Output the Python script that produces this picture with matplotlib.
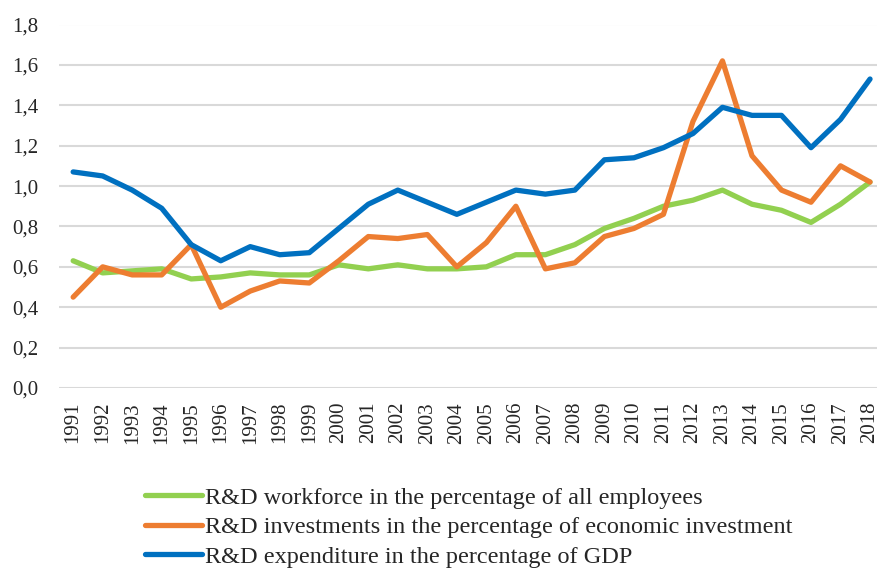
import matplotlib
matplotlib.use('Agg')
import matplotlib.pyplot as plt
import numpy as np

# Data
years = list(range(1991, 2019))
workforce = [0.63, 0.57, 0.58, 0.59, 0.54, 0.55, 0.57, 0.56, 0.56, 0.61,
             0.59, 0.61, 0.59, 0.59, 0.60, 0.66, 0.66, 0.71, 0.79, 0.84,
             0.90, 0.93, 0.98, 0.91, 0.88, 0.82, 0.91, 1.02]
investments = [0.45, 0.60, 0.56, 0.56, 0.71, 0.40, 0.48, 0.53, 0.52, 0.63,
               0.75, 0.74, 0.76, 0.60, 0.72, 0.90, 0.59, 0.62, 0.75, 0.79,
               0.86, 1.32, 1.62, 1.15, 0.98, 0.92, 1.10, 1.02]
expenditure = [1.07, 1.05, 0.98, 0.89, 0.71, 0.63, 0.70, 0.66, 0.67, 0.79,
               0.91, 0.98, 0.92, 0.86, 0.92, 0.98, 0.96, 0.98, 1.13, 1.14,
               1.19, 1.26, 1.39, 1.35, 1.35, 1.19, 1.33, 1.53]
labels = ['R&D workforce in the percentage of all employees',
          'R&D investments in the percentage of economic investment',
          'R&D expenditure in the percentage of GDP']

plt.rcParams['font.family'] = ['Liberation Serif', 'DejaVu Serif']

W, H = 878, 570
fig = plt.figure(figsize=(W / 100, H / 100), dpi=100)
ax = fig.add_axes([59 / W, (H - 388) / H, (W - 59) / W, (388 - 24.5) / H])

lw = 3.8
ax.plot(years, workforce, color='#92D050', lw=lw, label=labels[0], solid_capstyle='round')
ax.plot(years, investments, color='#ED7D31', lw=lw, label=labels[1], solid_capstyle='round')
ax.plot(years, expenditure, color='#0070C0', lw=lw, label=labels[2], solid_capstyle='round')

ax.set_ylim(0, 1.8)
ax.set_xlim(1990.52, 2018.27)
yt = np.arange(0, 1.81, 0.2)
ax.set_yticks(yt)
ax.set_yticklabels([f'{v:.1f}'.replace('.', ',') for v in yt], fontsize=15, color='#262626')
ax.set_xticks(years)
ax.set_xticklabels([str(y) for y in years], rotation=90, fontsize=15, color='#262626')
ax.tick_params(length=0)
ax.tick_params(axis='x', pad=10)
ax.tick_params(axis='y', pad=15)

ax.grid(axis='y', color='#D9D9D9', lw=1.5)
ax.set_axisbelow(True)
for s in ax.spines.values():
    s.set_visible(False)

# legend at the bottom, kept just inside the figure
leg = fig.legend(loc='upper left', bbox_to_anchor=(123 / W, (H - 465) / H),
                 frameon=False, fontsize=17.5, handlelength=2.35, handletextpad=0.12,
                 labelspacing=0.3)
for t in leg.get_texts():
    t.set_color('#262626')

fig.savefig('out.png', dpi=100)
